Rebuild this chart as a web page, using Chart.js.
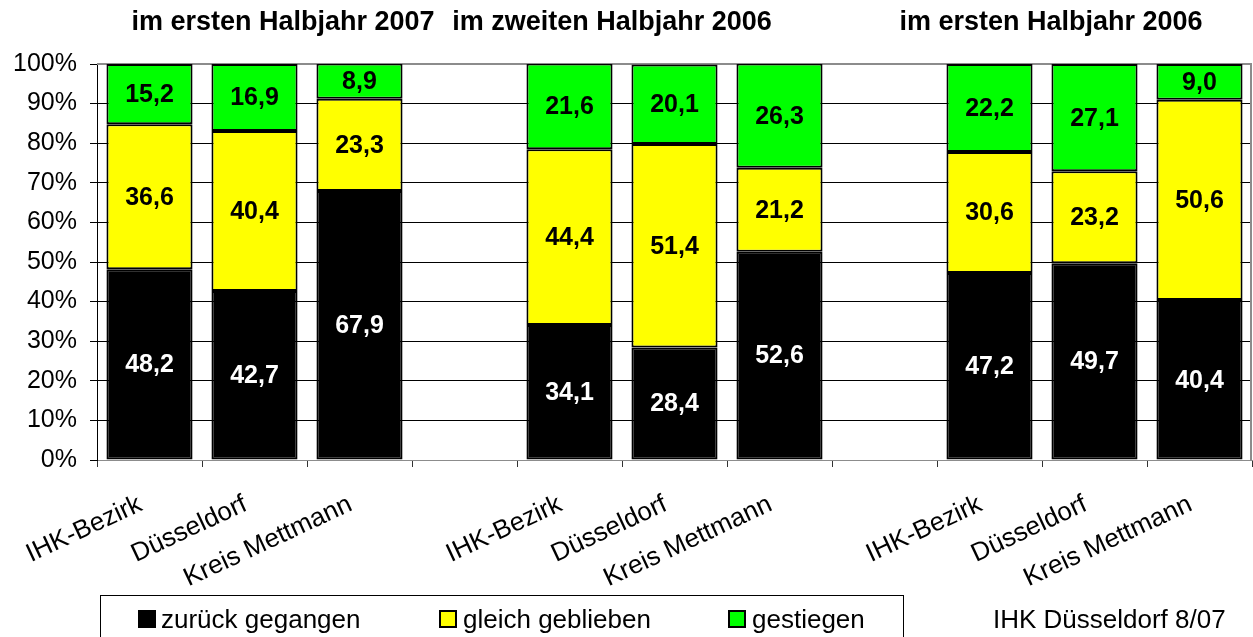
<!DOCTYPE html>
<html>
<head>
<meta charset="utf-8">
<script src="https://cdn.jsdelivr.net/npm/chart.js@4/dist/chart.umd.min.js"></script>
<style>
  html, body { margin: 0; padding: 0; background: #fff; }
  #wrap { width: 1253px; height: 637px; }
</style>
</head>
<body>
<div id="wrap"><canvas id="umsatzChart" width="1253" height="637"></canvas></div>
<script>
// Daten
var kategorien = ['IHK-Bezirk', 'Düsseldorf', 'Kreis Mettmann', '',
                  'IHK-Bezirk', 'Düsseldorf', 'Kreis Mettmann', '',
                  'IHK-Bezirk', 'Düsseldorf', 'Kreis Mettmann'];
var zurueckGegangen = [48.2, 42.7, 67.9, null, 34.1, 28.4, 52.6, null, 47.2, 49.7, 40.4];
var gleichGeblieben = [36.6, 40.4, 23.3, null, 44.4, 51.4, 21.2, null, 30.6, 23.2, 50.6];
var gestiegen       = [15.2, 16.9, 8.9, null, 21.6, 20.1, 26.3, null, 22.2, 27.1, 9.0];
var serienNamen = ['zurück gegangen', 'gleich geblieben', 'gestiegen'];
var zeitraeume = ['im ersten Halbjahr 2007', 'im zweiten Halbjahr 2006', 'im ersten Halbjahr 2006'];
var quelle = 'IHK Düsseldorf 8/07';
var yTicks = [0, 10, 20, 30, 40, 50, 60, 70, 80, 90, 100];

var schrift = '"Liberation Sans", Arial, sans-serif';

document.addEventListener("DOMContentLoaded", function () {

    // Werte in die Balken schreiben
    var wertePlugin = {
        id: 'werte',
        afterDatasetsDraw: function (chart) {
            var ctx = chart.ctx;
            ctx.save();
            ctx.font = 'bold 25px ' + schrift;
            ctx.textAlign = 'center';
            ctx.textBaseline = 'middle';
            chart.data.datasets.forEach(function (ds, i) {
                var meta = chart.getDatasetMeta(i);
                meta.data.forEach(function (bar, j) {
                    var v = ds.data[j];
                    if (v === null) return;
                    var p = bar.getProps(['x', 'y', 'base'], true);
                    ctx.fillStyle = i === 0 ? '#fff' : '#000';
                    ctx.fillText(v.toFixed(1).replace('.', ','), p.x, (p.y + p.base) / 2 + 1);
                });
            });
            ctx.restore();
        }
    };

    // Rahmen, Überschriften, Legende, Quelle
    var rahmenPlugin = {
        id: 'rahmen',
        beforeDatasetsDraw: function (chart) {
            var a = chart.chartArea;
            var ctx = chart.ctx;
            ctx.save();
            ctx.strokeStyle = '#8c8c8c';
            ctx.lineWidth = 2;
            ctx.beginPath();
            ctx.moveTo(a.left, a.top);
            ctx.lineTo(a.right - 1, a.top);
            ctx.lineTo(a.right - 1, a.bottom);
            ctx.stroke();
            ctx.restore();
        },
        afterDraw: function (chart) {
            var ctx = chart.ctx;
            ctx.save();
            ctx.fillStyle = '#000';
            ctx.font = 'bold 27px ' + schrift;
            ctx.textAlign = 'center';
            ctx.textBaseline = 'alphabetic';
            var titelX = [283, 612, 1051];
            zeitraeume.forEach(function (t, i) {
                ctx.fillText(t, titelX[i], 30);
            });

            // Legende
            ctx.strokeStyle = '#000';
            ctx.lineWidth = 1;
            ctx.strokeRect(100.5, 595.5, 803, 60);
            var boxX = [138, 439, 728];
            var textX = [161, 463, 752];
            ctx.font = '26px ' + schrift;
            ctx.textAlign = 'left';
            chart.data.datasets.forEach(function (ds, i) {
                ctx.fillStyle = ds.backgroundColor;
                ctx.fillRect(boxX[i], 610, 18, 18);
                ctx.lineWidth = 2;
                ctx.strokeRect(boxX[i] + 1, 611, 16, 16);
                ctx.fillStyle = '#000';
                ctx.fillText(ds.label, textX[i], 628);
            });
            ctx.fillText(quelle, 993, 628);
            ctx.restore();
        }
    };

    var farben = ['#000000', '#ffff00', '#00ff00'];
    var reihen = [zurueckGegangen, gleichGeblieben, gestiegen];

    var ctx = document.getElementById('umsatzChart').getContext('2d');
    var umsatzChart = new Chart(ctx, {
        type: 'bar',
        data: {
            labels: kategorien,
            datasets: reihen.map(function (werte, i) {
                return {
                    label: serienNamen[i],
                    data: werte,
                    backgroundColor: farben[i],
                    borderColor: '#000',
                    borderWidth: 2,
                    borderSkipped: false,
                    categoryPercentage: 1,
                    barPercentage: 0.82
                };
            })
        },
        options: {
            responsive: false,
            animation: false,
            layout: { padding: { top: 64, right: 1, bottom: 0, left: 0 } },
            plugins: {
                legend: { display: false },
                tooltip: { enabled: false }
            },
            scales: {
                x: {
                    stacked: true,
                    afterFit: function (scale) { scale.height = 177; },
                    border: { display: true, color: '#8c8c8c', width: 1 },
                    grid: {
                        offset: true,
                        drawOnChartArea: false,
                        drawTicks: true,
                        tickLength: 7,
                        color: '#333'
                    },
                    ticks: {
                        autoSkip: false,
                        minRotation: 25,
                        maxRotation: 25,
                        padding: 22,
                        labelOffset: -9,
                        color: '#000',
                        font: { family: schrift, size: 26 }
                    }
                },
                y: {
                    stacked: true,
                    min: 0,
                    max: 100,
                    afterFit: function (scale) { scale.width = 97; },
                    afterBuildTicks: function (scale) {
                        scale.ticks = yTicks.map(function (v) { return { value: v }; });
                    },
                    border: { display: true, color: '#000', width: 1 },
                    grid: {
                        color: function (c) {
                            return (c.tick && (c.tick.value === 0 || c.tick.value === 100)) ? '#8c8c8c' : '#000';
                        },
                        lineWidth: 1,
                        tickLength: 7,
                        tickColor: '#000'
                    },
                    ticks: {
                        padding: 13,
                        color: '#000',
                        font: { family: schrift, size: 25 },
                        callback: function (v) { return v + '%'; }
                    }
                }
            }
        },
        plugins: [rahmenPlugin, wertePlugin]
    });
});
</script>
</body>
</html>
